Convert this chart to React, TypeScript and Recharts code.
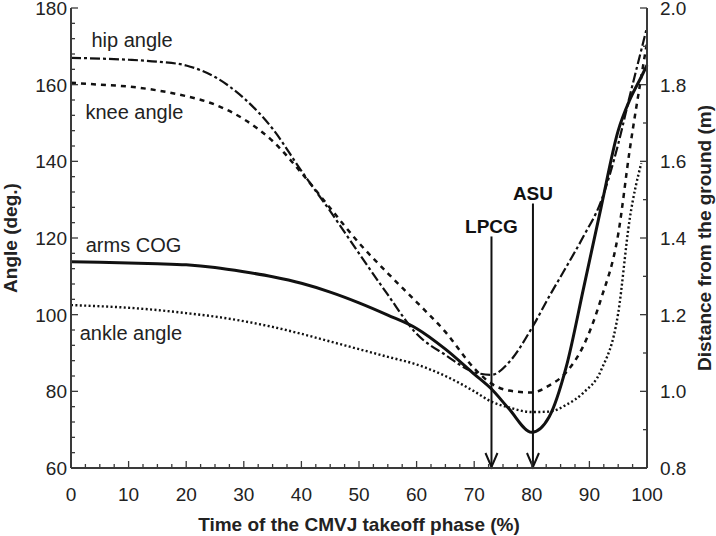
import { Line, LineChart, ReferenceDot, ReferenceLine, XAxis, YAxis, Label } from 'recharts'

// % of the takeoff phase
const timePct = [0, 5, 10, 15, 20, 25, 30, 35, 40, 45, 50, 55, 60, 65, 70, 73, 76, 80, 83, 86, 89, 92, 95, 97, 99, 100]

// joint angles (deg.)
const hipAngle = [167, 166.8, 166.5, 166, 165, 162, 156.5, 148.5, 137.5, 127, 116, 105.2, 95, 89.5, 85, 84.3, 87.5, 96.5, 104.7, 112.5, 120.5, 129.5, 144.5, 157, 169, 175]
const kneeAngle = [160.5, 160, 159.5, 158.5, 157, 154.8, 151, 145.3, 137, 127.8, 118.7, 110.8, 103.3, 95.5, 86, 82, 80.2, 79.7, 81.5, 85, 92, 104, 121, 143, 162, 171]
const ankleAngle = [102.5, 102.2, 101.8, 101.2, 100.4, 99.5, 98.3, 96.8, 95, 93, 91, 89, 87, 84, 80, 77.3, 75.8, 74.6, 74.7, 76.5, 79.7, 85.4, 100.4, 125, 139.5, null]

// arms centre of gravity, distance from the ground (m)
const armsCog = [1.338, 1.337, 1.335, 1.333, 1.33, 1.323, 1.312, 1.299, 1.282, 1.259, 1.231, 1.199, 1.164, 1.11, 1.045, 1.006, 0.955, 0.893, 0.933, 1.065, 1.27, 1.478, 1.68, 1.76, 1.82, 1.851]

const xMajor = [0, 10, 20, 30, 40, 50, 60, 70, 80, 90, 100]
const xMinor = Array.from({ length: 41 }, (_, i) => i * 2.5)
const angleMajor = [60, 80, 100, 120, 140, 160, 180]
const angleMinor = Array.from({ length: 31 }, (_, i) => 60 + i * 4)
const distMajor = ['0.8', '1.0', '1.2', '1.4', '1.6', '1.8', '2.0']
const distMinor = [0.8, 0.9, 1.0, 1.1, 1.2, 1.3, 1.4, 1.5, 1.6, 1.7, 1.8, 1.9, 2.0]

// events: [label, % time, top of arrow (deg.)]
const events: [string, number, number][] = [
  ['LPCG', 73, 120.4],
  ['ASU', 80.2, 129],
]
const eventLabelY = [123.1, 131.7]

const curveLabels: [string, number, number][] = [
  ['hip angle', 10.6, 171.7],
  ['knee angle', 11.0, 152.9],
  ['arms COG', 10.85, 118.2],
  ['ankle angle', 10.4, 95.2],
]

const data = timePct.map((t, i) => ({
  t,
  hip: hipAngle[i],
  knee: kneeAngle[i],
  ankle: ankleAngle[i],
  arms: armsCog[i],
}))

const INK = '#111'
const AXIS = '#3a3a3a'
const TEXT = '#222'

function BottomTick({ x, y, payload }: any) {
  const major = xMajor.includes(payload.value)
  return (
    <g>
      <line x1={x} x2={x} y1={y} y2={y - (major ? 7 : 4)} stroke={AXIS} strokeWidth={1.3} />
      {major && (
        <text x={x} y={y + 33} textAnchor="middle" fontSize={19} fill={TEXT}>
          {payload.value}
        </text>
      )}
    </g>
  )
}

function TopTick({ x, y, payload }: any) {
  const major = xMajor.includes(payload.value)
  return <line x1={x} x2={x} y1={y} y2={y + (major ? 7 : 4)} stroke={AXIS} strokeWidth={1.3} />
}

function LeftTick({ x, y, payload }: any) {
  const major = angleMajor.includes(payload.value)
  return (
    <g>
      <line x1={x} x2={x + (major ? 7 : 4)} y1={y} y2={y} stroke={AXIS} strokeWidth={1.3} />
      {major && (
        <text x={x - 4} y={y} dy="0.36em" textAnchor="end" fontSize={19} fill={TEXT}>
          {payload.value}
        </text>
      )}
    </g>
  )
}

function RightTick({ x, y, payload }: any) {
  const txt = payload.value.toFixed(1)
  const major = distMajor.includes(txt)
  return (
    <g>
      <line x1={x} x2={x - (major ? 7 : 4)} y1={y} y2={y} stroke={AXIS} strokeWidth={1.3} />
      {major && (
        <text x={x + 13} y={y} dy="0.36em" textAnchor="start" fontSize={19} fill={TEXT}>
          {txt}
        </text>
      )}
    </g>
  )
}

function ArrowShape(props: any) {
  const { x1, y1, x2, y2 } = props
  const top = Math.min(y1, y2)
  const bot = Math.max(y1, y2)
  return (
    <g>
      <line x1={x1} x2={x2} y1={top} y2={bot} stroke={INK} strokeWidth={2} />
      <path d={`M${x1 - 6},${bot - 15} L${x1},${bot - 1} L${x1 + 6},${bot - 15}`} fill="none" stroke={INK} strokeWidth={2} />
    </g>
  )
}

const titleStyle = { fontSize: 19, fontWeight: 700, fill: TEXT }

export default function App() {
  return (
    <div style={{ position: 'absolute', left: 0, top: 0, width: 716, height: 536, background: '#fff', fontFamily: '"Liberation Sans", Arial, sans-serif' }}>
      <LineChart width={716} height={536} data={data} margin={{ top: 8, right: 0, bottom: 0, left: 0 }}>
        <XAxis
          dataKey="t"
          type="number"
          domain={[0, 100]}
          ticks={xMinor}
          interval={0}
          tickSize={0}
          tickMargin={0}
          height={68}
          tick={<BottomTick />}
          axisLine={{ stroke: AXIS, strokeWidth: 2 }}
          tickLine={false}
        >
          <Label
            content={(p: any) => (
              <text x={p.viewBox.x + p.viewBox.width / 2} y={531} textAnchor="middle" {...titleStyle}>
                Time of the CMVJ takeoff phase (%)
              </text>
            )}
          />
        </XAxis>
        <XAxis
          xAxisId="top"
          orientation="top"
          dataKey="t"
          type="number"
          domain={[0, 100]}
          ticks={xMinor}
          interval={0}
          tickSize={0}
          tickMargin={0}
          height={0}
          tick={<TopTick />}
          axisLine={{ stroke: AXIS, strokeWidth: 2 }}
          tickLine={false}
        />
        <YAxis
          yAxisId="left"
          type="number"
          domain={[60, 180]}
          ticks={angleMinor}
          interval={0}
          width={71}
          tickSize={0}
          tickMargin={0}
          tick={<LeftTick />}
          axisLine={{ stroke: AXIS, strokeWidth: 2 }}
          tickLine={false}
        >
          <Label
            content={(p: any) => {
              const cy = p.viewBox.y + p.viewBox.height / 2
              return (
                <text x={10} y={cy} transform={`rotate(-90, 10, ${cy})`} textAnchor="middle" dy="0.36em" {...titleStyle}>
                  Angle (deg.)
                </text>
              )
            }}
          />
        </YAxis>
        <YAxis
          yAxisId="right"
          orientation="right"
          type="number"
          domain={[0.8, 2.0]}
          ticks={distMinor}
          interval={0}
          width={69}
          tickSize={0}
          tickMargin={0}
          tick={<RightTick />}
          axisLine={{ stroke: AXIS, strokeWidth: 2 }}
          tickLine={false}
        >
          <Label
            content={(p: any) => {
              const cy = p.viewBox.y + p.viewBox.height / 2
              return (
                <text x={704} y={cy} transform={`rotate(-90, 704, ${cy})`} textAnchor="middle" dy="0.36em" {...titleStyle}>
                  Distance from the ground (m)
                </text>
              )
            }}
          />
        </YAxis>

        <Line yAxisId="left" dataKey="hip" type="monotone" stroke={INK} strokeWidth={2.2} strokeDasharray="10 3 3 3" dot={false} isAnimationActive={false} />
        <Line yAxisId="left" dataKey="knee" type="monotone" stroke={INK} strokeWidth={2.5} strokeDasharray="5 5" dot={false} isAnimationActive={false} />
        <Line yAxisId="left" dataKey="ankle" type="monotone" stroke={INK} strokeWidth={2.4} strokeDasharray="2 2.4" dot={false} isAnimationActive={false} />
        <Line yAxisId="right" dataKey="arms" type="monotone" stroke={INK} strokeWidth={3} dot={false} isAnimationActive={false} />

        {events.map(([name, t, top]) => (
          <ReferenceLine
            key={name}
            yAxisId="left"
            segment={[{ x: t, y: top }, { x: t, y: 60 }]}
            shape={ArrowShape}
          />
        ))}
        {events.map(([name, t], i) => (
          <ReferenceDot
            key={'lbl-' + name}
            yAxisId="left"
            x={t}
            y={eventLabelY[i]}
            r={0}
            fill="none"
            stroke="none"
            label={{ value: name, position: 'center', fontSize: 19, fontWeight: 700, fill: INK }}
          />
        ))}
        {curveLabels.map(([name, t, a]) => (
          <ReferenceDot
            key={name}
            yAxisId="left"
            x={t}
            y={a}
            r={0}
            fill="none"
            stroke="none"
            label={{ value: name, position: 'center', fontSize: 20, fill: TEXT }}
          />
        ))}
      </LineChart>
    </div>
  )
}
